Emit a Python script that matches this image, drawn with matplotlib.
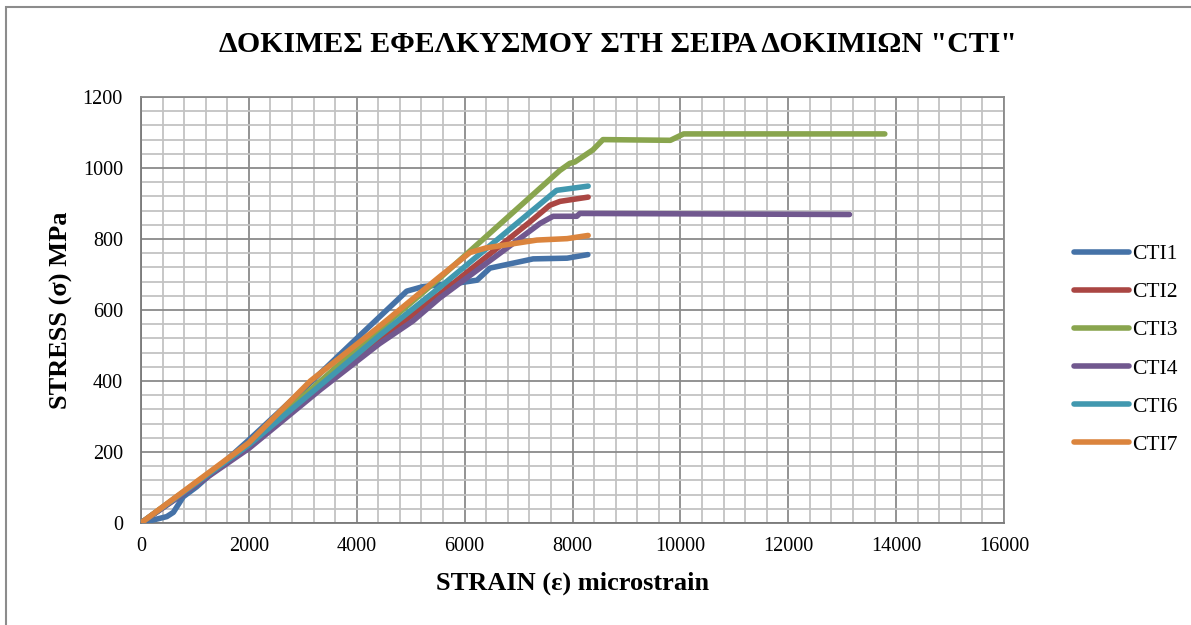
import matplotlib.pyplot as plt
from matplotlib.patches import Rectangle
from matplotlib.ticker import MultipleLocator

plt.rcParams['font.family'] = ['Liberation Serif', 'DejaVu Serif']

# strain (microstrain) / stress (MPa) for each specimen
cti1_x = [0, 478, 600, 784, 1032, 2000, 3000, 4000, 4926, 5230, 5880, 6230, 6470, 7270, 7900, 8285]
cti1_y = [0, 18, 30, 74, 102, 234, 375, 520, 653, 666, 676, 684, 718, 744, 746, 756]

cti2_x = [0, 2000, 3300, 4420, 5540, 7210, 7580, 7770, 8290]
cti2_y = [0, 214, 378, 515, 645, 848, 895, 906, 918]

cti3_x = [0, 2000, 4000, 5540, 7765, 7950, 8045, 8378, 8565, 9815, 10060, 13790]
cti3_y = [0, 222, 490, 690, 993, 1013, 1017, 1051, 1080, 1078, 1096, 1096]

cti4_x = [0, 2000, 3320, 4420, 5040, 5540, 7400, 7640, 8080, 8137, 13135]
cti4_y = [0, 210, 375, 505, 569, 634, 844, 864, 864, 872, 869]

cti6_x = [0, 2000, 3300, 4420, 5540, 7705, 8290]
cti6_y = [0, 220, 385, 528, 664, 937, 949]

cti7_x = [0, 2000, 3140, 4380, 5540, 6100, 6400, 7340, 7900, 8290]
cti7_y = [0, 226, 400, 549, 694, 762, 775, 797, 801, 810]

labels = ['CTI1', 'CTI2', 'CTI3', 'CTI4', 'CTI6', 'CTI7']
colors = ['#4572A7', '#AA4643', '#89A54E', '#71588F', '#4198AF', '#DB843D']

fig = plt.figure(figsize=(11.91, 6.25), dpi=100)
ax = fig.add_axes([141/1191, 1-523/625, (1004-141)/1191, (523-97)/625])

series = [(cti1_x, cti1_y), (cti2_x, cti2_y), (cti3_x, cti3_y),
          (cti4_x, cti4_y), (cti6_x, cti6_y), (cti7_x, cti7_y)]
for (xs, ys), lab, col in zip(series, labels, colors):
    ax.plot(xs, ys, color=col, lw=4, label=lab, solid_capstyle='round',
            solid_joinstyle='round', zorder=3)

ax.set_xlim(0, 16000)
ax.set_ylim(0, 1200)
ax.xaxis.set_major_locator(MultipleLocator(2000))
ax.xaxis.set_minor_locator(MultipleLocator(400))
ax.yaxis.set_major_locator(MultipleLocator(200))
ax.yaxis.set_minor_locator(MultipleLocator(40))
ax.grid(which='minor', color='#c3c3c3', lw=1.3, zorder=0)
ax.grid(which='major', color='#8a8a8a', lw=1.3, zorder=1)
ax.set_axisbelow(True)
ax.tick_params(which='both', length=0, labelsize=14.5)
ax.tick_params(axis='y', pad=13)
ax.tick_params(axis='x', pad=10)
for s in ax.spines.values():
    s.set_color('#8a8a8a')
    s.set_linewidth(1.3)
ax.spines['left'].set_color('#7a7a7a')
ax.spines['bottom'].set_color('#7a7a7a')

ax.set_xlabel('STRAIN (ε) microstrain', fontsize=19, fontweight='bold', labelpad=11)
ax.set_ylabel('STRESS (σ) MPa', fontsize=19, fontweight='bold', labelpad=7)
fig.text(618/1191, 1-45/625, 'ΔΟΚΙΜΕΣ ΕΦΕΛΚΥΣΜΟΥ ΣΤΗ ΣΕΙΡΑ ΔΟΚΙΜΙΩΝ "CTI"',
         ha='center', va='center', fontsize=21.5, fontweight='bold')

fig.legend(loc='center left', bbox_to_anchor=(1055/1191, 1-349.5/625),
           frameon=False, fontsize=15.5, handlelength=2.55, handletextpad=0.14,
           labelspacing=0.84)

# chart area border
fig.patches.append(Rectangle((6/1191, -0.1), 1.2, 1.1 - 7/625, transform=fig.transFigure,
                             fill=False, edgecolor='#8c8c8c', lw=1.5))

fig.savefig('out.png', dpi=100)
